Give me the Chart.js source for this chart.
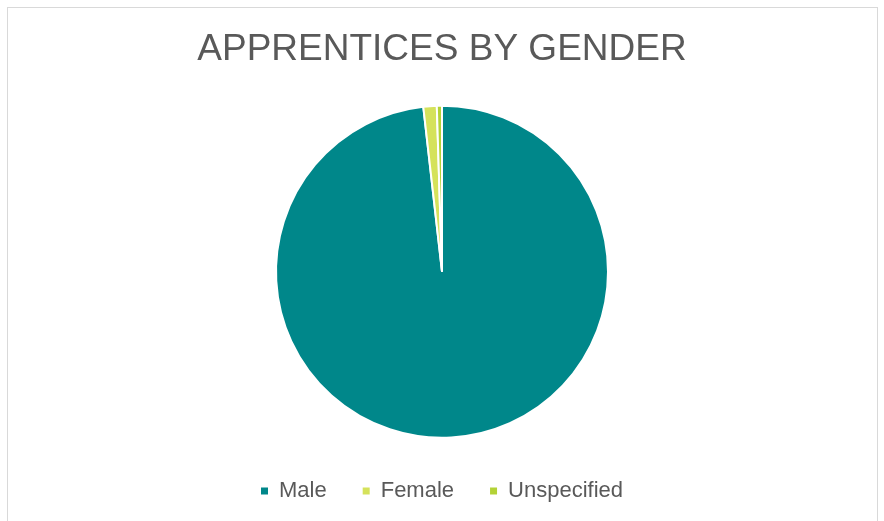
<!DOCTYPE html>
<html>
<head>
<meta charset="utf-8">
<script src="https://cdn.jsdelivr.net/npm/chart.js@4"></script>
<style>
  html, body { margin: 0; padding: 0; background: #fff; }
  #wrap { position: relative; width: 884px; height: 521px; overflow: hidden; }
  #frame { position: absolute; left: 7px; top: 7px; width: 871px; height: 530px; border: 1px solid #d9d9d9; box-sizing: border-box; }
  #c { position: absolute; left: 0; top: 0; }
</style>
</head>
<body>
<div id="wrap">
  <div id="frame"></div>
  <canvas id="c" width="884" height="521"></canvas>
</div>
<script>
const chartTitle = "APPRENTICES BY GENDER";
const categories = ["Male", "Female", "Unspecified"];
const shares = [98.2, 1.3, 0.5];
const colours = ["#00878A", "#D5E25B", "#B3D236"];

const ctx = document.getElementById('c').getContext('2d');
new Chart(ctx, {
  type: 'pie',
  data: {
    labels: categories,
    datasets: [{
      data: shares,
      backgroundColor: colours,
      borderColor: '#ffffff',
      borderWidth: 2,
      radius: 166
    }]
  },
  options: {
    responsive: false,
    animation: false,
    layout: { padding: { top: 0, bottom: 9, left: 0, right: 0 } },
    plugins: {
      tooltip: { enabled: false },
      title: {
        display: true,
        text: chartTitle,
        color: '#595959',
        font: { family: "'Liberation Sans', Arial, sans-serif", size: 37, weight: 'normal' },
        padding: { top: 28, bottom: 27 }
      },
      legend: {
        position: 'bottom',
        labels: {
          color: '#595959',
          font: { family: "'Liberation Sans', Arial, sans-serif", size: 22 },
          boxWidth: 7,
          boxHeight: 7,
          padding: 36,
          generateLabels: (chart) => categories.map((name, i) => ({
            text: name,
            fillStyle: colours[i],
            strokeStyle: colours[i],
            lineWidth: 0,
            hidden: false,
            index: i,
            fontColor: '#595959'
          }))
        }
      }
    }
  }
});
</script>
</body>
</html>
